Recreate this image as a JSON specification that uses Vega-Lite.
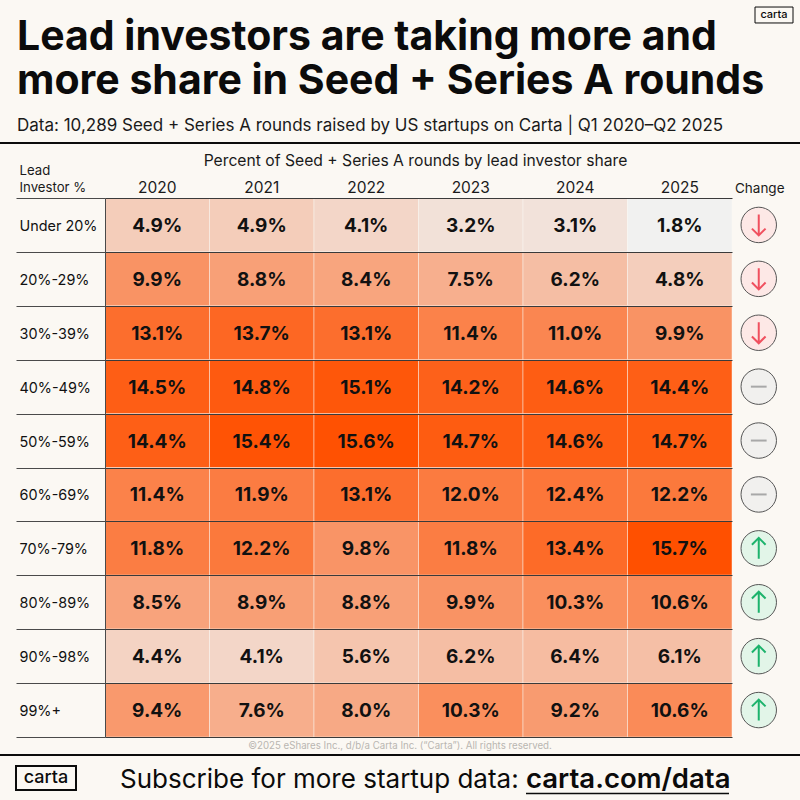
{
"$schema":"https://vega.github.io/schema/vega-lite/v6.json",
"width":627,"height":539,
"autosize":{"type":"none"},
"padding":{"left":105,"right":68,"top":198,"bottom":63},
"background":"#FBF8F3",
"title":{"text":["Lead investors are taking more and","more share in Seed + Series A rounds"],"subtitle":"Data: 10,289 Seed + Series A rounds raised by US startups on Carta | Q1 2020–Q2 2025","anchor":"start","frame":"group","dx":-88,"offset":-130,"font":"Inter","fontSize":41,"fontWeight":700,"lineHeight":44,"color":"#0b0b0b","subtitleFont":"Inter","subtitleFontSize":17,"subtitleFontWeight":400,"subtitleColor":"#1a1a1a","subtitlePadding":15},
"config":{"view":{"stroke":null},"font":"Inter"},
"datasets":{
"heat":[
{"row":"Under 20%","year":"2020","value":0.049},{"row":"Under 20%","year":"2021","value":0.049},{"row":"Under 20%","year":"2022","value":0.041},{"row":"Under 20%","year":"2023","value":0.032},{"row":"Under 20%","year":"2024","value":0.031},{"row":"Under 20%","year":"2025","value":0.018},
{"row":"20%-29%","year":"2020","value":0.099},{"row":"20%-29%","year":"2021","value":0.088},{"row":"20%-29%","year":"2022","value":0.084},{"row":"20%-29%","year":"2023","value":0.075},{"row":"20%-29%","year":"2024","value":0.062},{"row":"20%-29%","year":"2025","value":0.048},
{"row":"30%-39%","year":"2020","value":0.131},{"row":"30%-39%","year":"2021","value":0.137},{"row":"30%-39%","year":"2022","value":0.131},{"row":"30%-39%","year":"2023","value":0.114},{"row":"30%-39%","year":"2024","value":0.110},{"row":"30%-39%","year":"2025","value":0.099},
{"row":"40%-49%","year":"2020","value":0.145},{"row":"40%-49%","year":"2021","value":0.148},{"row":"40%-49%","year":"2022","value":0.151},{"row":"40%-49%","year":"2023","value":0.142},{"row":"40%-49%","year":"2024","value":0.146},{"row":"40%-49%","year":"2025","value":0.144},
{"row":"50%-59%","year":"2020","value":0.144},{"row":"50%-59%","year":"2021","value":0.154},{"row":"50%-59%","year":"2022","value":0.156},{"row":"50%-59%","year":"2023","value":0.147},{"row":"50%-59%","year":"2024","value":0.146},{"row":"50%-59%","year":"2025","value":0.147},
{"row":"60%-69%","year":"2020","value":0.114},{"row":"60%-69%","year":"2021","value":0.119},{"row":"60%-69%","year":"2022","value":0.131},{"row":"60%-69%","year":"2023","value":0.120},{"row":"60%-69%","year":"2024","value":0.124},{"row":"60%-69%","year":"2025","value":0.122},
{"row":"70%-79%","year":"2020","value":0.118},{"row":"70%-79%","year":"2021","value":0.122},{"row":"70%-79%","year":"2022","value":0.098},{"row":"70%-79%","year":"2023","value":0.118},{"row":"70%-79%","year":"2024","value":0.134},{"row":"70%-79%","year":"2025","value":0.157},
{"row":"80%-89%","year":"2020","value":0.085},{"row":"80%-89%","year":"2021","value":0.089},{"row":"80%-89%","year":"2022","value":0.088},{"row":"80%-89%","year":"2023","value":0.099},{"row":"80%-89%","year":"2024","value":0.103},{"row":"80%-89%","year":"2025","value":0.106},
{"row":"90%-98%","year":"2020","value":0.044},{"row":"90%-98%","year":"2021","value":0.041},{"row":"90%-98%","year":"2022","value":0.056},{"row":"90%-98%","year":"2023","value":0.062},{"row":"90%-98%","year":"2024","value":0.064},{"row":"90%-98%","year":"2025","value":0.061},
{"row":"99%+","year":"2020","value":0.094},{"row":"99%+","year":"2021","value":0.076},{"row":"99%+","year":"2022","value":0.080},{"row":"99%+","year":"2023","value":0.103},{"row":"99%+","year":"2024","value":0.092},{"row":"99%+","year":"2025","value":0.106}
],
"change":[
{"row":"Under 20%","direction":"down"},{"row":"20%-29%","direction":"down"},{"row":"30%-39%","direction":"down"},{"row":"40%-49%","direction":"flat"},{"row":"50%-59%","direction":"flat"},{"row":"60%-69%","direction":"flat"},{"row":"70%-79%","direction":"up"},{"row":"80%-89%","direction":"up"},{"row":"90%-98%","direction":"up"},{"row":"99%+","direction":"up"}
]
},
"encoding":{
"x":{"field":"year","type":"nominal","scale":{"domain":["2020","2021","2022","2023","2024","2025"],"paddingInner":0,"paddingOuter":0},
"axis":{"orient":"top","title":"Percent of Seed + Series A rounds by lead investor share","titleFont":"Inter","titleFontSize":15.7,"titleFontWeight":400,"titleColor":"#1a1a1a","titlePadding":12,"titleX":310,"labelAngle":0,"labelFont":"Inter","labelFontSize":15.5,"labelColor":"#1a1a1a","labelPadding":3,"domain":false,"ticks":false}},
"y":{"field":"row","type":"nominal","scale":{"domain":["Under 20%","20%-29%","30%-39%","40%-49%","50%-59%","60%-69%","70%-79%","80%-89%","90%-98%","99%+"],"paddingInner":0,"paddingOuter":0},
"axis":{"title":["Lead","Investor %"],"titleAngle":0,"titleAlign":"left","titleBaseline":"bottom","titleX":-86,"titleY":-21,"titleLineHeight":17,"titleFont":"Inter","titleFontSize":13.2,"titleFontWeight":400,"titleColor":"#1a1a1a","labelFont":"Inter","labelFontSize":14.4,"labelColor":"#111","labelAlign":"left","labelPadding":-3,"labelOffset":1.5,"tickBand":"extent","tickSize":89,"tickColor":"#4a4a4a","tickWidth":1,"domainColor":"#4a4a4a","domainWidth":1,"grid":true,"gridColor":"#3a3a3a","gridWidth":1,"zindex":1}}
},
"layer":[
{"data":{"name":"heat"},"mark":{"type":"rect","stroke":"#FBF8F3","strokeOpacity":0.45,"strokeWidth":1},
"encoding":{"color":{"field":"value","type":"quantitative","legend":null,"scale":{"domain":[0.018,0.157],"range":["#F1F1F0","#FF5000"],"interpolate":"rgb"}}}},
{"data":{"name":"heat"},"mark":{"type":"text","font":"Inter","fontSize":19,"fontWeight":700,"color":"#111111","dy":1},
"encoding":{"text":{"field":"value","type":"quantitative","format":".1%"}}},
{"data":{"name":"change"},"mark":{"type":"point","shape":"circle","filled":true,"size":1257,"xOffset":79,"stroke":"#555555","strokeWidth":1,"opacity":1},
"encoding":{"x":{"datum":"2025","type":"nominal"},"fill":{"field":"direction","type":"nominal","legend":null,"scale":{"domain":["down","flat","up"],"range":["#FDE8E6","#F1F0EE","#E2F5E8"]}}}},
{"data":{"name":"change"},"mark":{"type":"point","filled":false,"xOffset":79,"strokeWidth":2,"opacity":1,"size":441},
"encoding":{"x":{"datum":"2025","type":"nominal"},
"shape":{"field":"direction","type":"nominal","legend":null,"scale":{"domain":["down","flat","up"],"range":["M0,-1V1M-0.65,0.35L0,1L0.65,0.35","M-0.75,0H0.75","M0,1V-1M-0.65,-0.35L0,-1L0.65,-0.35"]}},
"stroke":{"field":"direction","type":"nominal","legend":null,"scale":{"domain":["down","flat","up"],"range":["#F0505F","#A8A8A8","#1DB36C"]}}}},
{"data":{"values":[{"text":"Change"}]},"mark":{"type":"text","font":"Inter","fontSize":13.5,"color":"#1a1a1a","xOffset":80,"yOffset":-5,"baseline":"alphabetic"},
"encoding":{"x":{"datum":"2025","type":"nominal"},"y":{"datum":"Under 20%","type":"nominal","bandPosition":0},"text":{"field":"text"}}},
{"data":{"values":[{"text":"©2025 eShares Inc., d/b/a Carta Inc. (“Carta”). All rights reserved."}]},"mark":{"type":"text","font":"Inter","fontSize":9.7,"color":"#b9b6b1","xOffset":-18.5,"yOffset":9},
"encoding":{"x":{"datum":"2022","type":"nominal","bandPosition":1},"y":{"datum":"99%+","type":"nominal","bandPosition":1},"text":{"field":"text"}}},
{"data":{"values":[{"rule":"top"}]},"mark":{"type":"point","shape":"M-1,0H1","filled":false,"size":640000,"stroke":"#0b0b0b","strokeWidth":2,"opacity":1,"xOffset":-18.5,"yOffset":-55},
"encoding":{"x":{"datum":"2022","type":"nominal","bandPosition":1},"y":{"datum":"Under 20%","type":"nominal","bandPosition":0}}},
{"data":{"values":[{"rule":"bottom"}]},"mark":{"type":"point","shape":"M-1,0H1","filled":false,"size":640000,"stroke":"#0b0b0b","strokeWidth":2,"opacity":1,"xOffset":-18.5,"yOffset":18},
"encoding":{"x":{"datum":"2022","type":"nominal","bandPosition":1},"y":{"datum":"99%+","type":"nominal","bandPosition":1}}},
{"data":{"values":[{"text":"Subscribe for more startup data:"}]},"mark":{"type":"text","font":"Inter","fontSize":26,"color":"#0b0b0b","align":"left","baseline":"alphabetic","xOffset":15,"yOffset":51},
"encoding":{"x":{"datum":"2020","type":"nominal","bandPosition":0},"y":{"datum":"99%+","type":"nominal","bandPosition":1},"text":{"field":"text"}}},
{"data":{"values":[{"text":"carta.com/data"}]},"mark":{"type":"text","font":"Inter","fontSize":27.5,"fontWeight":600,"color":"#0b0b0b","align":"left","baseline":"alphabetic","xOffset":3,"yOffset":51},
"encoding":{"x":{"datum":"2024","type":"nominal","bandPosition":0},"y":{"datum":"99%+","type":"nominal","bandPosition":1},"text":{"field":"text"}}},
{"data":{"values":[{"rule":"underline"}]},"mark":{"type":"point","shape":"M-1,0H1","filled":false,"size":41209,"stroke":"#0b0b0b","strokeWidth":1.5,"opacity":1,"xOffset":104.5,"yOffset":56.5},
"encoding":{"x":{"datum":"2024","type":"nominal","bandPosition":0},"y":{"datum":"99%+","type":"nominal","bandPosition":1}}},
{"data":{"values":[{"logo":"footer"}]},"mark":{"type":"point","shape":"M-1,-0.4H1V0.4H-1Z","filled":false,"size":3600,"stroke":"#0b0b0b","strokeWidth":2,"opacity":1,"xOffset":-59,"yOffset":41},
"encoding":{"x":{"datum":"2020","type":"nominal","bandPosition":0},"y":{"datum":"99%+","type":"nominal","bandPosition":1}}},
{"data":{"values":[{"text":"carta"}]},"mark":{"type":"text","font":"Inter","fontSize":18,"fontWeight":500,"color":"#0b0b0b","xOffset":-59,"yOffset":41},
"encoding":{"x":{"datum":"2020","type":"nominal","bandPosition":0},"y":{"datum":"99%+","type":"nominal","bandPosition":1},"text":{"field":"text"}}},
{"data":{"values":[{"logo":"top"}]},"mark":{"type":"point","shape":"M-1,-0.42H1V0.42H-1Z","filled":false,"size":1444,"stroke":"#0b0b0b","strokeWidth":1,"opacity":1,"xOffset":42,"yOffset":-183},
"encoding":{"x":{"datum":"2025","type":"nominal","bandPosition":1},"y":{"datum":"Under 20%","type":"nominal","bandPosition":0}}},
{"data":{"values":[{"text":"carta"}]},"mark":{"type":"text","font":"Inter","fontSize":11,"fontWeight":500,"color":"#0b0b0b","xOffset":42,"yOffset":-183},
"encoding":{"x":{"datum":"2025","type":"nominal","bandPosition":1},"y":{"datum":"Under 20%","type":"nominal","bandPosition":0},"text":{"field":"text"}}}
]
}
